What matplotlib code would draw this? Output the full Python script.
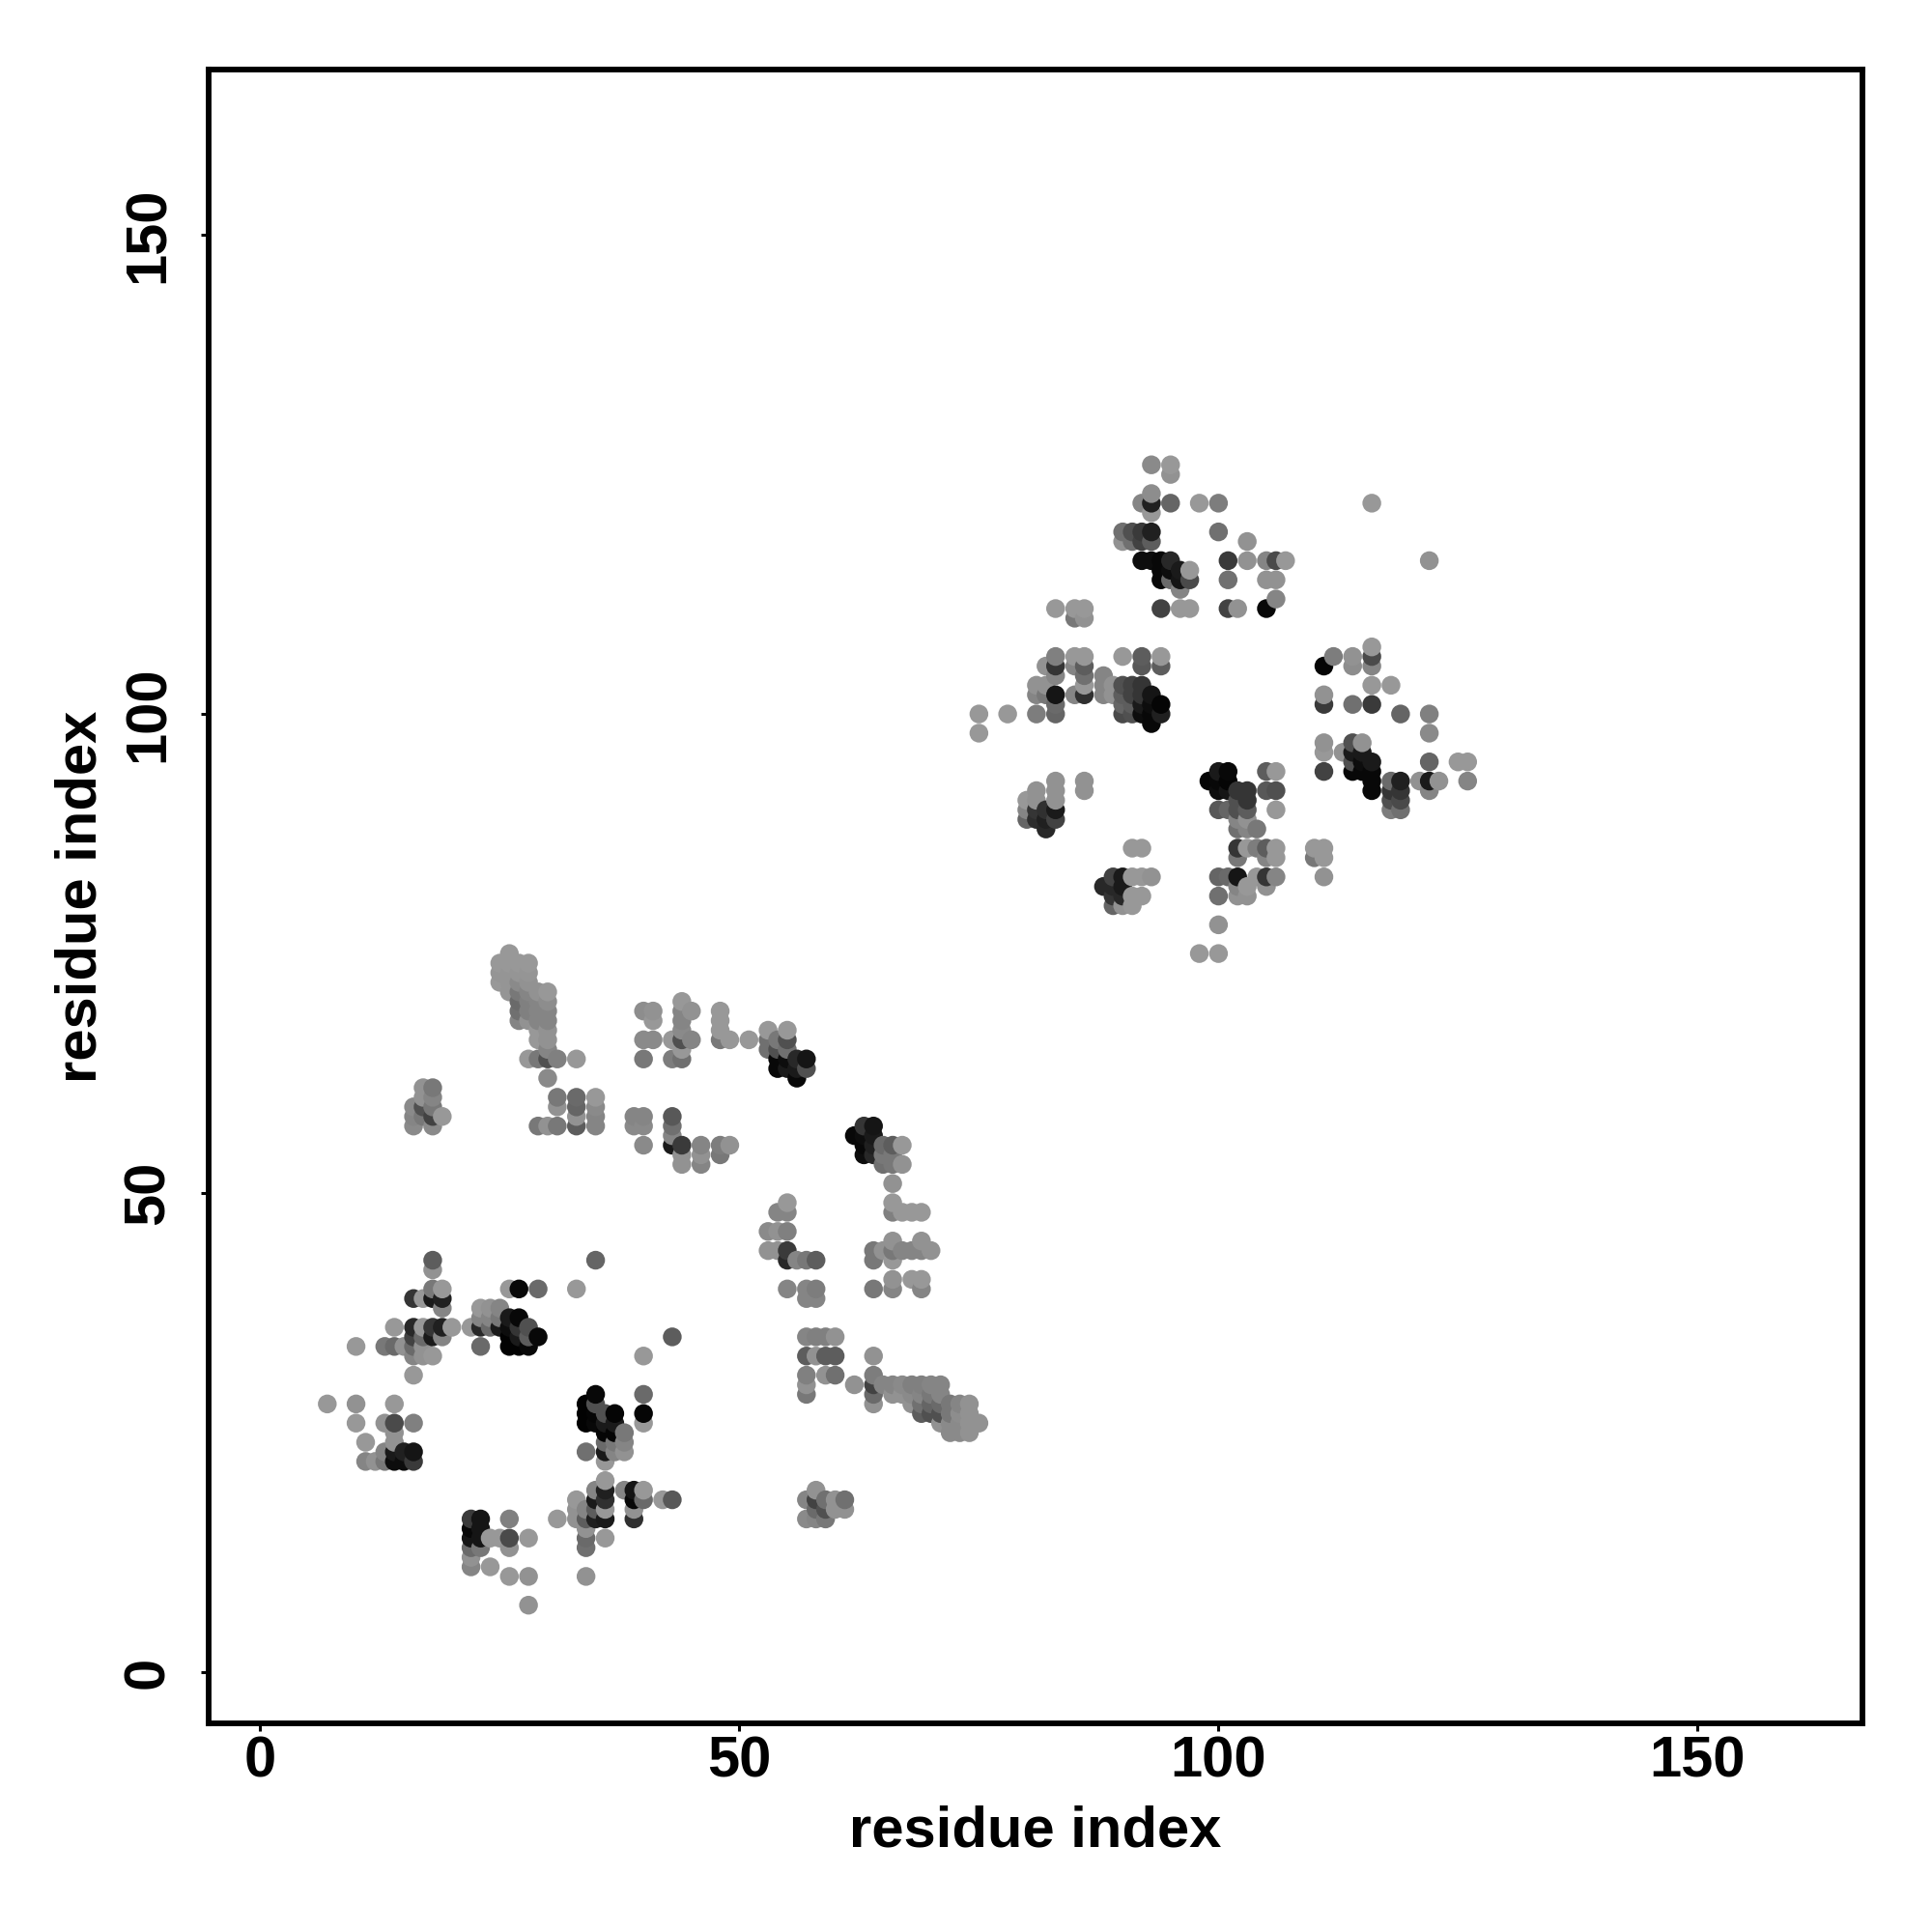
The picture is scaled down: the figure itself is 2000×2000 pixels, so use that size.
import numpy as np
import matplotlib
matplotlib.use('Agg')
import matplotlib.pyplot as plt

# contacts: (residue i, residue j, grey level)
helix_a = [(18,43,.35),(18,42,.55),(26,40,.57),(27,40,.03),(29,40,.4),(33,40,.57),(35,43,.38),(43,35,.35),(40,33,.57),
    (16,39,.2),(17,39,.57),(18,40,.45),(19,40,.57),(18,39,.1),(19,39,.12),(19,38,.5),
    (14,36,.57),(16,36,.15),(17,36,.57),(18,36,.2),(19,36,.12),(20,36,.57),(22,36,.57),
    (16,35,.25),(17,35,.4),(18,35,.1),(19,35,.5),
    (10,34,.57),(13,34,.45),(14,34,.4),(15,34,.55),(16,34,.4),(17,34,.55),
    (16,33,.5),(17,33,.55),(18,33,.57),(16,31,.57)]
helix_b = [(23,38,.57),(24,38,.55),(25,38,.5),(23,37,.5),(24,37,.5),(25,37,.45),(26,37,.1),(27,37,.03),
    (23,36,.15),(24,36,.4),(25,36,.1),(26,36,.05),(27,36,.2),(28,36,.3),(29,35,.03),
    (26,35,.01),(27,35,.1),(28,35,.35),(23,34,.4),(26,34,.01),(27,34,.01),(28,34,.03)]
helix_c = [(7,28,.57),(10,28,.55),(14,28,.57),(10,26,.57),(13,26,.55),(14,26,.28),(16,26,.48),
    (11,24,.57),(14,25,.55),(14,24,.55),(13,23,.5),(14,23,.1),(15,23,.12),(16,23,.08),
    (11,22,.5),(12,22,.55),(13,22,.45),(14,22,.05),(15,22,.05),(16,22,.22)]
helix_d = [(35,29,.03),(34,28,.01),(35,28,.3),(36,27,.3),(37,27,.02),(34,27,.01),(35,27,.02),
    (34,26,.01),(35,26,.03),(36,26,.1),(37,26,.1),(38,25,.45),(36,25,.02),(37,25,.02),
    (36,24,.4),(37,24,.45),(38,24,.5),(34,23,.42),(36,23,.1),(37,23,.5),(38,23,.55),(36,22,.57),
    (40,29,.4),(40,27,.02),(40,26,.57)]
helix_e = [(22,16,.22),(23,16,.08),(26,16,.48),(22,15,.03),(23,15,.08),(22,14,.08),(23,14,.08),(24,14,.57),
    (25,14,.57),(26,14,.28),(28,14,.57),(22,13,.4),(23,13,.45),(26,13,.55),(22,12,.55),(22,11,.5),
    (24,11,.57),(26,10,.57),(28,10,.55),(28,7,.55)]
helix_f = [(36,20,.57),(35,19,.5),(36,19,.12),(38,19,.5),(39,19,.08),(40,19,.57),
    (33,18,.57),(35,18,.1),(36,18,.18),(39,18,.03),(40,18,.4),(42,18,.57),(43,18,.33),
    (33,17,.55),(34,17,.5),(35,17,.35),(36,17,.57),(39,17,.55),
    (31,16,.57),(33,16,.55),(34,16,.35),(35,16,.12),(36,16,.1),(39,16,.18),
    (34,15,.55),(34,14,.4),(36,14,.57),(34,13,.42),(34,10,.55)]
strand_a = [(26,75,.57),(25,74,.57),(26,74,.57),(27,74,.57),(28,74,.57),(25,73,.56),(26,73,.56),(27,73,.56),(28,73,.56),
    (25,72,.57),(26,72,.56),(27,72,.52),(28,72,.55),(26,71,.56),(27,71,.45),(28,71,.5),(29,71,.55),(30,71,.57),
    (27,70,.4),(28,70,.48),(29,70,.5),(30,70,.53),(27,69,.42),(28,69,.48),(29,69,.5),(30,69,.5),
    (27,68,.5),(28,68,.55),(29,68,.5),(30,68,.5),(29,67,.57),(30,67,.55),(29,66,.57),(30,66,.55),(30,65,.5),
    (28,64,.57),(29,64,.45),(30,64,.3),(31,64,.48),(33,64,.57),(30,62,.52),
    (31,60,.45),(33,60,.4),(35,60,.57),(31,59,.55),(33,59,.38),(35,59,.52),(33,58,.55),(35,58,.5),
    (29,57,.45),(30,57,.55),(31,57,.45),(33,57,.35),(35,57,.5),
    (16,59,.52),(16,58,.5),(16,57,.52),(17,61,.55),(17,60,.55),(17,59,.3),(17,58,.45),
    (18,61,.45),(18,60,.5),(18,59,.45),(18,58,.25),(18,57,.52),(19,58,.57)]
strand_b = [(40,69,.53),(41,69,.55),(41,68,.57),(44,70,.57),(45,69,.55),(44,69,.5),(44,68,.5),(44,67,.52),
    (40,66,.52),(41,66,.52),(43,66,.57),(44,66,.3),(45,66,.5),(40,64,.45),(43,64,.47),(44,64,.42),(44,65,.57),
    (48,69,.57),(48,68,.57),(48,67,.57),(48,66,.45),(49,66,.57),(51,66,.57),
    (53,67,.57),(55,67,.57),(54,66,.45),(53,66,.42),(55,66,.3),(53,65,.42),(54,65,.3),(55,65,.42),
    (54,64,.03),(54,63,.03),(55,64,.05),(56,64,.15),(57,64,.08),(57,63,.3),(56,63,.1),(55,63,.1),(56,62,.03),
    (39,58,.5),(40,58,.5),(39,57,.52),(40,57,.52),(40,55,.52),(43,58,.33),(43,57,.42),(43,56,.5),(43,55,.1),
    (44,55,.22),(44,54,.55),(44,53,.55),(46,55,.5),(46,54,.55),(46,53,.5),(48,55,.47),(49,55,.55),(48,54,.45)]
strand_c = [(63,57,.2),(64,57,.08),(62,56,.03),(63,56,.05),(64,56,.1),(63,55,.03),(64,55,.12),(65,55,.4),(66,55,.35),(67,55,.57),
    (63,54,.05),(64,54,.15),(65,54,.45),(66,54,.45),(65,53,.42),(66,53,.45),(67,53,.55),(66,51,.55),
    (55,49,.57),(54,48,.5),(55,48,.5),(53,46,.52),(54,46,.55),(55,46,.48),(53,44,.55),(54,44,.55),(55,44,.22),
    (55,43,.15),(56,43,.5),(57,43,.45),(58,43,.35),(55,40,.5),(57,40,.5),(58,40,.47),(57,39,.5),(58,39,.5),
    (66,49,.57),(66,48,.48),(67,48,.57),(68,48,.57),(69,48,.57),(66,45,.55),(69,45,.55),
    (64,44,.45),(65,44,.55),(66,44,.45),(67,44,.5),(68,44,.5),(69,44,.5),(70,44,.55),(64,43,.45),(66,43,.57),
    (66,41,.55),(68,41,.57),(69,41,.57),(64,40,.45),(66,40,.5),(69,40,.5)]
strand_d = [(57,35,.5),(58,35,.48),(59,35,.48),(60,35,.55),(57,33,.35),(58,33,.55),(59,33,.35),(60,33,.35),(64,33,.55),
    (57,31,.48),(59,31,.55),(60,31,.42),(62,30,.55),(57,30,.55),(57,29,.45),
    (64,31,.47),(64,30,.25),(64,29,.4),(64,28,.55),
    (65,30,.5),(66,30,.5),(67,30,.52),(68,30,.48),(69,30,.48),(70,30,.5),(71,30,.5),
    (66,29,.55),(67,29,.55),(68,29,.52),(69,29,.5),(70,29,.45),(71,29,.5),
    (68,28,.55),(69,28,.42),(70,28,.38),(71,28,.4),(72,28,.45),(73,28,.5),(74,28,.55),
    (69,27,.35),(70,27,.3),(71,27,.3),(72,27,.45),(73,27,.53),(74,27,.55),
    (71,26,.55),(72,26,.52),(73,26,.52),(74,26,.55),(75,26,.55),(72,25,.52),(73,25,.52),(74,25,.55),
    (58,19,.55),(57,18,.5),(58,18,.25),(59,18,.42),(60,18,.55),(61,18,.42),
    (58,17,.4),(59,17,.3),(60,17,.55),(61,17,.55),(57,16,.52),(58,16,.5),(59,16,.45)]
domain2_a = [(93,126,.52),(95,126,.57),(95,125,.55),(92,122,.5),(93,123,.53),(93,122,.12),(93,121,.57),(95,122,.38),(98,122,.57),(100,122,.47),
    (90,119,.42),(91,119,.3),(92,119,.22),(93,119,.12),(100,119,.42),(90,118,.55),(91,118,.42),(92,118,.25),(93,118,.35),(103,118,.55),
    (92,116,.05),(93,116,.05),(94,116,.03),(95,116,.15),(101,116,.22),(103,116,.55),(105,116,.5),(106,116,.28),(107,116,.57),
    (94,115,.03),(95,115,.05),(96,115,.1),(97,115,.57),(94,114,.03),(95,114,.4),(96,114,.08),(97,114,.28),(101,114,.42),(105,114,.55),(106,114,.55),
    (96,113,.5),(106,112,.5),(83,111,.57),(85,111,.57),(86,111,.57),(94,111,.25),(96,111,.57),(97,111,.57),(101,111,.25),(102,111,.55),(105,111,.03),
    (85,110,.45),(86,110,.55)]
domain2_b = [(83,106,.48),(85,106,.57),(86,106,.57),(90,106,.57),(92,106,.35),(94,106,.57),
    (82,105,.55),(83,105,.2),(85,105,.5),(86,105,.35),(92,105,.33),(94,105,.35),
    (83,104,.5),(86,104,.42),(88,104,.5),(81,103,.55),(82,103,.55),(86,103,.57),(88,103,.5),(89,103,.55),(90,103,.3),(91,103,.25),(92,103,.2),
    (81,102,.5),(82,102,.45),(83,102,.08),(85,102,.5),(86,102,.18),(88,102,.5),(89,102,.55),(90,102,.35),(91,102,.25),(92,102,.2),(93,102,.08),
    (83,101,.4),(90,101,.38),(91,101,.35),(92,101,.1),(93,101,.05),(94,101,.02),
    (75,100,.57),(78,100,.57),(81,100,.47),(83,100,.38),(90,100,.28),(91,100,.3),(92,100,.05),(93,100,.03),(94,100,.12),
    (93,99,.03),(75,98,.57)]
domain2_c = [(83,93,.55),(83,92,.55),(83,91,.55),(83,90,.1),(83,89,.25),(81,92,.55),(81,91,.55),(80,91,.57),(80,90,.5),(80,89,.38),
    (81,90,.2),(81,89,.17),(82,90,.18),(82,89,.12),(82,88,.15),(86,93,.55),(86,92,.55),
    (89,83,.25),(90,83,.1),(91,83,.57),(92,83,.57),(93,83,.55),(88,82,.15),(89,82,.15),(90,82,.1),
    (89,81,.2),(90,81,.15),(91,81,.57),(92,81,.57),(89,80,.38),(90,80,.55),(91,80,.57),(91,86,.57),(92,86,.57)]
domain2_d = [(100,94,.1),(101,94,.03),(105,94,.35),(106,94,.57),(99,93,.02),(100,93,.03),(101,93,.02),
    (100,92,.05),(101,92,.08),(102,92,.2),(103,92,.2),(105,92,.33),(106,92,.3),(102,91,.3),(103,91,.2),
    (100,90,.33),(101,90,.38),(102,90,.3),(103,90,.35),(106,90,.57),(102,89,.5),(103,89,.55),(102,88,.42),(103,88,.5),(104,88,.45),
    (102,86,.2),(103,86,.57),(104,86,.47),(105,86,.35),(106,86,.57),(110,86,.57),(111,86,.57),
    (102,85,.45),(105,85,.5),(106,85,.57),(110,85,.45),(111,85,.57),
    (100,83,.38),(101,83,.4),(102,83,.08),(104,83,.57),(105,83,.2),(106,83,.5),(111,83,.55),
    (102,82,.5),(103,82,.57),(105,82,.55),(100,81,.42),(102,81,.55),(103,81,.55),(100,78,.55),(98,75,.57),(100,75,.57)]
domain2_e = [(116,122,.57),(122,116,.55),(111,105,.02),(114,105,.53),(116,105,.5),(112,106,.47),(114,106,.55),(116,106,.28),(116,107,.57),
    (116,103,.57),(118,103,.57),(111,102,.55),(111,101,.22),(114,101,.42),(116,101,.22),(119,100,.38),(122,100,.48),(122,98,.52),
    (111,97,.55),(114,97,.3),(115,97,.55),(111,96,.57),(113,96,.55),(114,96,.1),(115,96,.1),
    (114,95,.3),(115,95,.05),(116,95,.1),(122,95,.38),(125,95,.57),(126,95,.57),
    (111,94,.25),(114,94,.03),(115,94,.03),(116,94,.03),(116,93,.03),(118,93,.4),(119,93,.12),(121,93,.55),(122,93,.1),(123,93,.55),(126,93,.5),
    (116,92,.03),(118,92,.2),(119,92,.2),(122,92,.5),(118,91,.3),(119,91,.28),(118,90,.47),(119,90,.42)]

ticks = [0, 50, 100, 150]

contacts = np.array(helix_a + helix_b + helix_c + helix_d + helix_e + helix_f + strand_a + strand_b + strand_c + strand_d
                    + domain2_a + domain2_b + domain2_c + domain2_d + domain2_e)
# the file lists contacts by residue i then j, later ones sit on top
contacts = contacts[np.lexsort((contacts[:, 1], contacts[:, 0]))]

plt.rcParams['font.family'] = ['Liberation Sans', 'DejaVu Sans']
plt.rcParams['font.weight'] = 'bold'

fig = plt.figure(figsize=(10, 10), dpi=200)
ax = fig.add_axes([216.3 / 2000, 1 - 1783.7 / 2000, (1928 - 216.3) / 2000, (1783.7 - 72) / 2000])
ax.scatter(contacts[:, 0], contacts[:, 1], c=contacts[:, 2], cmap='gray', vmin=0, vmax=0.96, s=49, linewidths=0)
ax.set_xlim(-5.35, 167.2)
ax.set_ylim(-5.3, 167.25)
ax.set_xticks(ticks)
ax.set_yticks(ticks)
ax.tick_params(axis='both', length=3, width=1.1, labelsize=21.5, color='black')
ax.tick_params(axis='x', pad=1.5)
ax.tick_params(axis='y', pad=9.6)
for lab in ax.get_yticklabels():
    lab.set_rotation(90)
    lab.set_va('center')
for spine in ax.spines.values():
    spine.set_linewidth(2.1)
ax.set_xlabel('residue index', fontsize=21.5, fontweight='bold')
ax.set_ylabel('residue index', fontsize=21.5, fontweight='bold')
ax.xaxis.set_label_coords(0.5, -0.0495)
ax.yaxis.set_label_coords(-0.0613, 0.5)
fig.savefig('out.png', dpi=200, facecolor='white')
